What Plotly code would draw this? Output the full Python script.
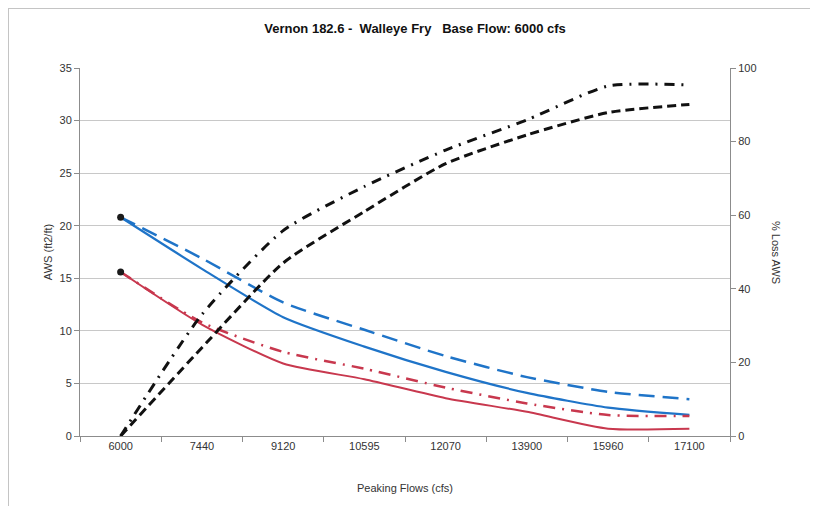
import plotly.graph_objects as go

categories = ["6000", "7440", "9120", "10595", "12070", "13900", "15960", "17100"]
blue_solid = [20.8, 15.9, 11.3, 8.5, 6.1, 4.1, 2.7, 2.0]
blue_dashed = [20.8, 16.9, 12.7, 10.1, 7.6, 5.6, 4.2, 3.5]
red_solid = [15.6, 10.6, 6.9, 5.4, 3.6, 2.3, 0.7, 0.7]
red_dashdot = [15.6, 10.8, 8.0, 6.4, 4.6, 3.1, 2.0, 1.9]
loss_dashdot = [0, 33, 55.8, 67.8, 77.7, 85.9, 95.1, 95.4]
loss_dashed = [0, 24, 47, 61, 74, 81.8, 87.9, 90.1]
start_points = [20.8, 15.6]

BLUE = "#1f74c8"
RED = "#c8384e"
FONT = "Liberation Sans, Arial, sans-serif"

fig = go.Figure()

fig.add_trace(go.Scatter(x=categories, y=loss_dashed, yaxis="y2", mode="lines",
                         line=dict(color="#111111", width=3, dash="9px,5px", shape="spline", smoothing=0.6)))
fig.add_trace(go.Scatter(x=categories, y=loss_dashdot, yaxis="y2", mode="lines",
                         line=dict(color="#111111", width=3, dash="10px,7px,2px,7px", shape="spline", smoothing=0.6)))
fig.add_trace(go.Scatter(x=categories, y=blue_dashed, mode="lines",
                         line=dict(color=BLUE, width=2.5, dash="16px,8px", shape="spline", smoothing=0.6)))
fig.add_trace(go.Scatter(x=categories, y=blue_solid, mode="lines",
                         line=dict(color=BLUE, width=2.2, shape="spline", smoothing=0.6)))
fig.add_trace(go.Scatter(x=categories, y=red_dashdot, mode="lines",
                         line=dict(color=RED, width=2.5, dash="12px,7px,2px,7px", shape="spline", smoothing=0.6)))
fig.add_trace(go.Scatter(x=categories, y=red_solid, mode="lines",
                         line=dict(color=RED, width=2, shape="spline", smoothing=0.6)))
fig.add_trace(go.Scatter(x=[categories[0], categories[0]], y=start_points, mode="markers",
                         marker=dict(color="#1a1a1a", size=7)))

# page body adds an 8px offset; margins compensate so the plot area sits at 80..730 x 68..436
L, R, T, B = 72, 96, 60, 78
PW = 818 - L - R
PH = 506 - T - B

fig.update_layout(
    width=818, height=506,
    margin=dict(l=L, r=R, t=T, b=B, autoexpand=False),
    paper_bgcolor="white", plot_bgcolor="white",
    showlegend=False,
    font=dict(family=FONT, size=11, color="#333333"),
    title=dict(text="<b>Vernon 182.6 -  Walleye Fry   Base Flow: 6000 cfs</b>",
               x=(415 - 8) / 818, xanchor="center", y=1 - 20 / 506, yanchor="middle",
               font=dict(size=13, color="#111111", family=FONT)),
    xaxis=dict(type="category", categoryorder="array", categoryarray=categories,
               range=[-0.5, 7.5], showgrid=False, showline=True, linecolor="#8c8c8c",
               ticks="outside", tickson="boundaries", ticklen=5, tickcolor="#8c8c8c",
               tickfont=dict(size=11, color="#333333"), automargin=False,
               title=dict(text="Peaking Flows (cfs)", font=dict(size=11, color="#333333"), standoff=33)),
    yaxis=dict(range=[0, 35], dtick=5, showgrid=True, gridcolor="#c8c8c8", gridwidth=1,
               showline=True, linecolor="#8c8c8c", ticks="outside", ticklen=5, tickcolor="#8c8c8c",
               zeroline=False, tickfont=dict(size=11, color="#333333"), automargin=False,
               title=dict(text="AWS (ft2/ft)", font=dict(size=11, color="#333333"), standoff=4)),
    yaxis2=dict(range=[0, 100], dtick=20, overlaying="y", side="right", showgrid=False,
                showline=True, linecolor="#8c8c8c", ticks="outside", ticklen=5, tickcolor="#8c8c8c",
                zeroline=False, tickfont=dict(size=11, color="#333333"), automargin=False),
    shapes=[
        dict(type="line", xref="paper", yref="paper", x0=-L / PW, x1=-L / PW, y0=1 + T / PH, y1=-B / PH,
             line=dict(color="#c4c4c4", width=2)),
        dict(type="line", xref="paper", yref="paper", x0=-L / PW, x1=(818 - L) / PW, y0=1 + T / PH, y1=1 + T / PH,
             line=dict(color="#c4c4c4", width=2)),
    ],
    annotations=[
        dict(text="% Loss AWS", xref="paper", yref="paper", x=(776 - 80) / PW, y=0.5,
             showarrow=False, textangle=90, font=dict(size=11, color="#333333"),
             xanchor="center", yanchor="middle"),
    ],
)

fig.write_html("out.html")
